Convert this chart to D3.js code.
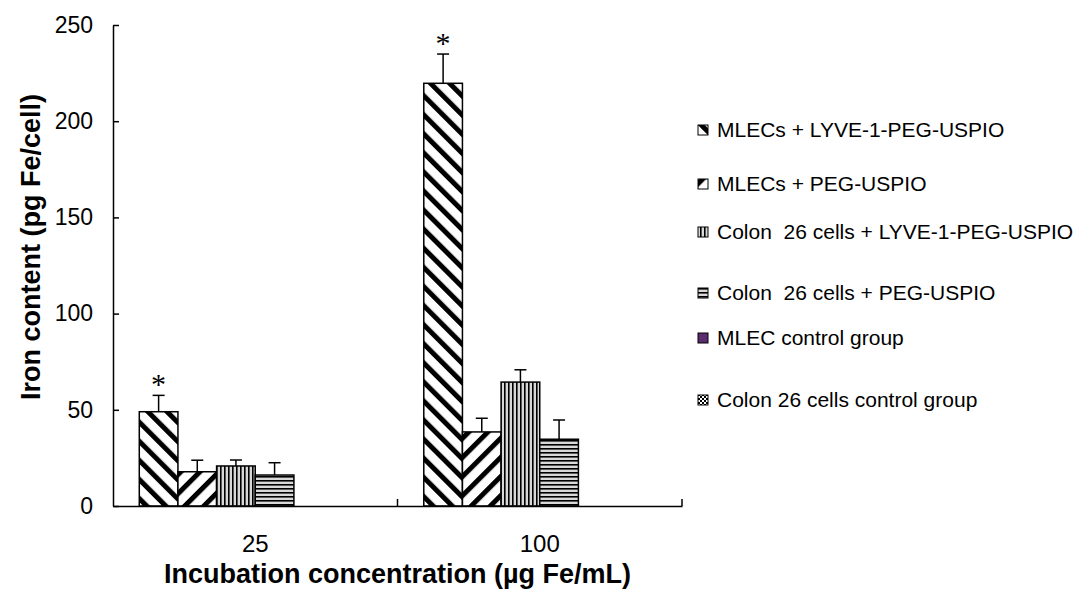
<!DOCTYPE html>
<html>
<head>
<meta charset="utf-8">
<script src="https://cdn.jsdelivr.net/npm/d3@7.9.0/dist/d3.min.js"></script>
<style>
  body { margin: 0; background: #fff; }
  svg { display: block; font-family: Arial, "Liberation Sans", sans-serif; }
</style>
</head>
<body>
<div id="chart"></div>
<script>
// categories on the x axis
const categories = ['25', '100'];

// series names (legend order)
const seriesNames = [
  'MLECs + LYVE-1-PEG-USPIO',
  'MLECs + PEG-USPIO',
  'Colon  26 cells + LYVE-1-PEG-USPIO',
  'Colon  26 cells + PEG-USPIO',
  'MLEC control group',
  'Colon 26 cells control group'
];

// mean iron content per series, one value per category
const meanValues = [
  [49.0, 219.7],
  [17.8, 38.5],
  [20.8, 64.4],
  [16.1, 34.7],
  [0, 0],
  [0, 0]
];

// upper error bar (SD) per series
const errValues = [
  [8.5, 15.2],
  [6.0, 7.1],
  [3.1, 6.4],
  [6.4, 10.0],
  [0, 0],
  [0, 0]
];

// significance marks (series 0 only)
const significant = [true, true];

const yTicks = [0, 50, 100, 150, 200, 250];

const width = 1079;
const height = 590;
const plot = { left: 113, right: 682, top: 25, bottom: 506 };

const svg = d3.select('#chart')
  .append('svg')
  .attr('width', width)
  .attr('height', height);

svg.append('rect').attr('width', width).attr('height', height).attr('fill', '#fff');

// ---- patterns ----
const defs = svg.append('defs');

function stripePattern(id, angle) {
  const p = defs.append('pattern')
    .attr('id', id)
    .attr('patternUnits', 'userSpaceOnUse')
    .attr('width', 13.5)
    .attr('height', 13.5)
    .attr('patternTransform', `rotate(${angle})`);
  p.append('rect').attr('width', 13.5).attr('height', 13.5).attr('fill', '#fff');
  p.append('rect').attr('width', 5).attr('height', 13.5).attr('fill', '#000');
}
stripePattern('p0', -45);
stripePattern('p1', 45);

const pv = defs.append('pattern')
  .attr('id', 'p2').attr('patternUnits', 'userSpaceOnUse')
  .attr('width', 4).attr('height', 4);
pv.append('rect').attr('width', 4).attr('height', 4).attr('fill', '#d8d8d8');
pv.append('rect').attr('width', 1.6).attr('height', 4).attr('fill', '#000');

const ph = defs.append('pattern')
  .attr('id', 'p3').attr('patternUnits', 'userSpaceOnUse')
  .attr('width', 4).attr('height', 4);
ph.append('rect').attr('width', 4).attr('height', 4).attr('fill', '#d8d8d8');
ph.append('rect').attr('width', 4).attr('height', 1.6).attr('fill', '#000');

const pc = defs.append('pattern')
  .attr('id', 'p5').attr('patternUnits', 'userSpaceOnUse')
  .attr('width', 4).attr('height', 4);
pc.append('rect').attr('width', 4).attr('height', 4).attr('fill', '#fff');
pc.append('rect').attr('width', 2).attr('height', 2).attr('fill', '#000');
pc.append('rect').attr('x', 2).attr('y', 2).attr('width', 2).attr('height', 2).attr('fill', '#000');

const fills = ['url(#p0)', 'url(#p1)', 'url(#p2)', 'url(#p3)', '#5c2d6e', 'url(#p5)'];

// ---- scales ----
const x0 = d3.scaleBand()
  .domain(categories)
  .range([plot.left, plot.right])
  .paddingInner(0)
  .paddingOuter(0);

const x1 = d3.scaleBand()
  .domain(d3.range(seriesNames.length))
  .range([0, x0.bandwidth()])
  .paddingInner(0)
  .paddingOuter(0.68);

const y = d3.scaleLinear().domain([0, 250]).range([plot.bottom, plot.top]);

// ---- bars ----
const rows = [];
seriesNames.forEach((name, s) => {
  categories.forEach((cat, c) => {
    rows.push({ s, cat, c, value: meanValues[s][c], err: errValues[s][c] });
  });
});
const visible = rows.filter(d => d.value > 0);

svg.append('g')
  .selectAll('rect')
  .data(visible)
  .join('rect')
  .attr('x', d => x0(d.cat) + x1(d.s))
  .attr('y', d => y(d.value))
  .attr('width', x1.bandwidth())
  .attr('height', d => y(0) - y(d.value))
  .attr('fill', d => fills[d.s])
  .attr('stroke', '#000')
  .attr('stroke-width', 1.5);

// error bars (upper only)
const eb = svg.append('g').attr('stroke', '#000').attr('stroke-width', 1.5);
visible.forEach(d => {
  const cx = x0(d.cat) + x1(d.s) + x1.bandwidth() / 2;
  eb.append('line')
    .attr('x1', cx).attr('x2', cx)
    .attr('y1', y(d.value)).attr('y2', y(d.value + d.err));
  eb.append('line')
    .attr('x1', cx - 6).attr('x2', cx + 6)
    .attr('y1', y(d.value + d.err)).attr('y2', y(d.value + d.err));
});

// asterisks
svg.append('g')
  .selectAll('text')
  .data(categories.filter((c, i) => significant[i]))
  .join('text')
  .attr('x', c => x0(c) + x1(0) + x1.bandwidth() / 2)
  .attr('y', (c) => {
    const i = categories.indexOf(c);
    return y(meanValues[0][i] + errValues[0][i]) - 1;
  })
  .attr('text-anchor', 'middle')
  .style('font-size', '30px')
  .style('font-family', '"Liberation Serif", "DejaVu Serif", serif')
  .text('*');

// ---- axes ----
const yAxis = d3.axisLeft(y)
  .tickValues(yTicks)
  .tickSizeInner(-6)
  .tickSizeOuter(0)
  .tickPadding(20);

const gy = svg.append('g')
  .attr('transform', `translate(${plot.left},0)`)
  .call(yAxis);
gy.selectAll('text').style('font-size', '23px').attr('fill', '#000');
gy.selectAll('line, path').attr('stroke', '#000').attr('stroke-width', 1.5);

const xAxis = d3.axisBottom(x0).tickSize(0).tickPadding(29);
const gx = svg.append('g')
  .attr('transform', `translate(0,${plot.bottom})`)
  .call(xAxis);
gx.selectAll('text').style('font-size', '24px').attr('fill', '#000');
gx.select('.domain').attr('stroke', '#000').attr('stroke-width', 1.5);

// category boundary ticks pointing up
gx.selectAll('.sep')
  .data(categories)
  .join('line')
  .attr('class', 'sep')
  .attr('x1', c => x0(c) + x0.bandwidth())
  .attr('x2', c => x0(c) + x0.bandwidth())
  .attr('y1', 0)
  .attr('y2', -7)
  .attr('stroke', '#000')
  .attr('stroke-width', 1.5);

// axis titles
svg.append('text')
  .attr('x', (plot.left + plot.right) / 2)
  .attr('y', 583)
  .attr('text-anchor', 'middle')
  .style('font-size', '27px')
  .style('font-weight', 'bold')
  .text('Incubation concentration (µg Fe/mL)');

svg.append('text')
  .attr('transform', 'translate(31,247) rotate(-90)')
  .attr('text-anchor', 'middle')
  .attr('dy', '0.35em')
  .style('font-size', '27px')
  .style('font-weight', 'bold')
  .text('Iron content (pg Fe/cell)');

// ---- legend ----
const legendY = [130, 184, 232, 293, 338, 400];
const lg = svg.append('g');
seriesNames.forEach((name, i) => {
  lg.append('rect')
    .attr('x', 698).attr('y', legendY[i] - 5)
    .attr('width', 10).attr('height', 10)
    .attr('fill', fills[i])
    .attr('stroke', '#000')
    .attr('stroke-width', 1);
  lg.append('text')
    .attr('x', 717).attr('y', legendY[i])
    .attr('dy', '0.35em')
    .style('font-size', '21px')
    .style('white-space', 'pre')
    .attr('xml:space', 'preserve')
    .text(name);
});
</script>
</body>
</html>
